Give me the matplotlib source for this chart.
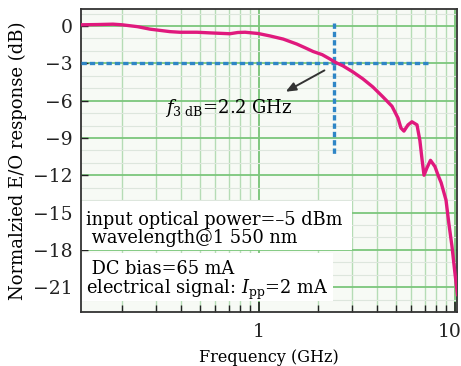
import matplotlib
matplotlib.use("Agg")
import matplotlib.pyplot as plt
from matplotlib.ticker import FixedLocator, NullFormatter
from matplotlib.patches import Rectangle
import matplotlib.transforms as mtransforms

# ---- data ----
freq_ghz = [0.124, 0.15, 0.18, 0.2, 0.24, 0.278, 0.351, 0.395, 0.483, 0.56, 0.71,
            0.78, 0.85, 0.99, 1.14, 1.33, 1.56, 1.72, 1.89, 2.10, 2.30, 2.44,
            2.68, 3.02, 3.39, 3.81, 4.29, 4.77, 5.12, 5.30, 5.49, 5.76, 6.03,
            6.40, 6.62, 6.80, 6.95, 7.20, 7.50, 7.90, 8.20, 8.50, 9.00, 9.30,
            9.65, 10.0, 10.3]
response_db = [0.1, 0.12, 0.15, 0.1, -0.05, -0.25, -0.45, -0.5, -0.5, -0.55, -0.62,
               -0.52, -0.5, -0.6, -0.8, -1.05, -1.45, -1.75, -2.05, -2.3, -2.65, -2.9,
               -3.2, -3.7, -4.25, -4.9, -5.7, -6.45, -7.4, -8.2, -8.45, -7.95, -7.7,
               -7.95, -9.2, -10.8, -12.0, -11.4, -10.8, -11.3, -12.0, -12.6, -14.0, -15.85,
               -17.7, -19.9, -21.6]

yticks = [0, -3, -6, -9, -12, -15, -18, -21]
xticks = [1, 10]
xtick_labels = ["1", "10"]

f3db_level = -3
f3db_freq = 2.41
hline_end = 7.37
vline_top, vline_bottom = 0.25, -10.3
f3db_label = r"$f_{3\ \mathrm{dB}}$=2.2 GHz"

box1_lines = ["input optical power=\u20135 dBm", " wavelength@1 550 nm"]
box2_lines = [" DC bias=65 mA", r"electrical signal: $I_{\mathrm{pp}}$=2 mA"]

plt.rcParams["font.family"] = ["DejaVu Serif"]
plt.rcParams["mathtext.fontset"] = "dejavuserif"

fig = plt.figure(figsize=(4.61, 3.66), dpi=100)
ax = fig.add_axes([81 / 461, 1 - 312 / 366, (457 - 81) / 461, (312 - 9) / 366])
ax.set_facecolor("#f7faf5")
ax.set_xscale("log")
ax.set_xlim(0.1236, 10.24)
ax.set_ylim(-23.0, 1.37)

# grid
minor_x = [m * 10 ** e for e in (-1, 0) for m in range(2, 10)]
ax.xaxis.set_major_locator(FixedLocator(xticks))
ax.xaxis.set_minor_locator(FixedLocator(minor_x))
ax.xaxis.set_minor_formatter(NullFormatter())
ax.set_xticklabels(xtick_labels)
ax.yaxis.set_major_locator(FixedLocator(yticks))
ax.yaxis.set_minor_locator(FixedLocator(list(range(-23, 2))))
ax.set_yticklabels(["\u2212" + str(-v) if v < 0 else str(v) for v in yticks])

ax.grid(which="major", axis="x", color="#6cbf6c", lw=1.2, zorder=0)
ax.grid(which="minor", axis="x", color="#b5dcb5", lw=1.0, zorder=0)
ax.grid(which="major", axis="y", color="#7cc67c", lw=1.3, zorder=0)
ax.grid(which="minor", axis="y", color="#dde6dd", lw=0.8, zorder=0)
ax.set_axisbelow(True)

ax.tick_params(axis="both", which="both", direction="in", colors="#222222",
               labelsize=13.5, top=False, right=False)
ax.tick_params(axis="x", which="major", length=7, width=1.2, pad=8)
ax.tick_params(axis="x", which="minor", length=5, width=1.0)
ax.tick_params(axis="y", which="major", length=5, width=1.0, pad=6)
ax.tick_params(axis="y", which="minor", length=0)
for s in ax.spines.values():
    s.set_color("#333333")
    s.set_linewidth(1.3)

# keep the "10" label inside the figure
lbls = ax.get_xticklabels()
shift = mtransforms.ScaledTranslation(-5 / 100, 0, fig.dpi_scale_trans)
lbls[-1].set_transform(lbls[-1].get_transform() + shift)

# white text boxes
ax.add_patch(Rectangle((0.0, 0.205), 0.72, 0.16, transform=ax.transAxes,
                       facecolor="white", edgecolor="none", zorder=1))
ax.add_patch(Rectangle((0.0, 0.035), 0.67, 0.16, transform=ax.transAxes,
                       facecolor="white", edgecolor="none", zorder=1))

# curve
ax.plot(freq_ghz, response_db, color="#e0197d", lw=2.4, zorder=4,
        solid_joinstyle="round")

# -3 dB guide lines
ax.plot([0.1236, hline_end], [f3db_level, f3db_level], color="#2f86c6",
        lw=2.4, ls=(0, (1.6, 0.9)), zorder=3)
ax.plot([f3db_freq, f3db_freq], [vline_top, vline_bottom], color="#2f86c6",
        lw=2.4, ls=(0, (1.6, 0.9)), zorder=3)

ax.annotate("", xy=(1.33, -5.39), xytext=(2.22, -3.46),
            arrowprops=dict(arrowstyle="-|>,head_length=0.6,head_width=0.25",
                            color="#333333", lw=1.4), zorder=5)
ax.text(0.331, -6.6, f3db_label, fontsize=13, va="center", ha="left", zorder=5)

fs = 12.8
ax.text(0.012, 0.274, "\n".join(box1_lines), transform=ax.transAxes, fontsize=fs,
        va="center", ha="left", linespacing=1.0, zorder=5)
ax.text(0.012, 0.102, "\n".join(box2_lines), transform=ax.transAxes, fontsize=fs,
        va="center", ha="left", linespacing=1.0, zorder=5)

ax.set_xlabel("Frequency (GHz)", fontsize=11.5, labelpad=6)
ax.set_ylabel("Normalzied E/O response (dB)", fontsize=13, labelpad=4)

fig.savefig("out.png", dpi=100)
